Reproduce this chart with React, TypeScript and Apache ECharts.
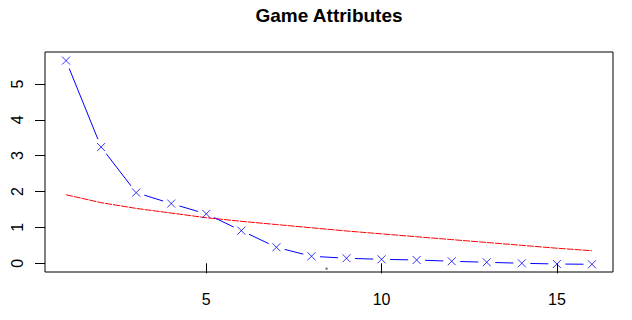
import React, { useEffect, useRef } from "react";
import * as echarts from "echarts";

const factorIndex = [1, 2, 3, 4, 5, 6, 7, 8, 9, 10, 11, 12, 13, 14, 15, 16];
const observedEigen = [5.65, 3.24, 1.97, 1.665, 1.377, 0.91, 0.447, 0.196, 0.14, 0.11, 0.092, 0.056, 0.028, 0.0, -0.02, -0.028];
const simulatedEigen = [1.91, 1.69, 1.53, 1.4, 1.27, 1.17, 1.08, 0.99, 0.9, 0.82, 0.74, 0.66, 0.58, 0.5, 0.42, 0.35];
const strayPoint = [[8.43, -0.15]];
const xTicks = [5, 10, 15];
const yTicks = [0, 1, 2, 3, 4, 5];
const titleText = "Game Attributes";

export default function App() {
  const ref = useRef<HTMLDivElement>(null);
  useEffect(() => {
    if (!ref.current) return;
    document.body.style.margin = "0";
    const chart = echarts.init(ref.current, null, { renderer: "svg" });
    const font = "Liberation Sans, Arial, sans-serif";
    const gap = 8.5;
    chart.setOption({
      animation: false,
      backgroundColor: "#ffffff",
      grid: {
        left: 45,
        top: 52,
        right: 19,
        bottom: 48,
        show: true,
        borderColor: "#000",
        borderWidth: 1,
        backgroundColor: "transparent",
      },
      graphic: [
        {
          type: "text",
          x: 329,
          y: 15,
          style: {
            text: titleText,
            font: `bold 19px ${font}`,
            fill: "#000",
            textAlign: "center",
            textVerticalAlign: "middle",
          },
        },
      ],
      xAxis: {
        type: "value",
        min: 0.4,
        max: 16.6,
        splitLine: { show: false },
        axisLine: { show: false },
        axisTick: {
          show: true,
          inside: false,
          length: 10,
          customValues: xTicks,
          lineStyle: { color: "#000" },
        },
        axisLabel: {
          customValues: xTicks,
          color: "#000",
          fontSize: 16,
          fontFamily: font,
          margin: 19,
        },
      },
      yAxis: {
        type: "value",
        min: -0.243,
        max: 5.89,
        splitLine: { show: false },
        axisLine: { show: false },
        axisTick: {
          show: true,
          inside: false,
          length: 10,
          customValues: yTicks,
          lineStyle: { color: "#000" },
        },
        axisLabel: {
          customValues: yTicks,
          color: "#000",
          fontSize: 16,
          fontFamily: font,
          rotate: 90,
          margin: 20,
        },
      },
      series: [
        {
          type: "line",
          data: factorIndex.map((x, i) => [x, simulatedEigen[i]]),
          showSymbol: false,
          symbol: "none",
          lineStyle: { color: "#ff0000", width: 1, type: [7, 1] },
          z: 2,
        },
        {
          type: "custom",
          data: factorIndex.slice(0, -1).map((x, i) => [x, observedEigen[i]]),
          encode: { x: 0, y: 1 },
          renderItem: (params: any, api: any) => {
            const i = params.dataIndex;
            const p1 = api.coord([factorIndex[i], observedEigen[i]]);
            const p2 = api.coord([factorIndex[i + 1], observedEigen[i + 1]]);
            const dx = p2[0] - p1[0];
            const dy = p2[1] - p1[1];
            const len = Math.sqrt(dx * dx + dy * dy);
            if (len <= 2 * gap) return null;
            const ux = dx / len;
            const uy = dy / len;
            return {
              type: "line",
              shape: {
                x1: p1[0] + ux * gap,
                y1: p1[1] + uy * gap,
                x2: p2[0] - ux * gap,
                y2: p2[1] - uy * gap,
              },
              style: { stroke: "#0000ff", lineWidth: 1 },
            };
          },
          z: 3,
        },
        {
          type: "scatter",
          data: factorIndex.map((x, i) => [x, observedEigen[i]]),
          symbol: "path://M0,0L10,10M10,0L0,10",
          symbolSize: 8,
          itemStyle: { color: "none", borderColor: "#0000ff", borderWidth: 1 },
          z: 4,
        },
        {
          type: "scatter",
          data: strayPoint,
          symbol: "rect",
          symbolSize: 2,
          itemStyle: { color: "#333" },
          z: 4,
        },
      ],
    });
    return () => chart.dispose();
  }, []);
  return <div ref={ref} style={{ width: 632, height: 320 }} />;
}
